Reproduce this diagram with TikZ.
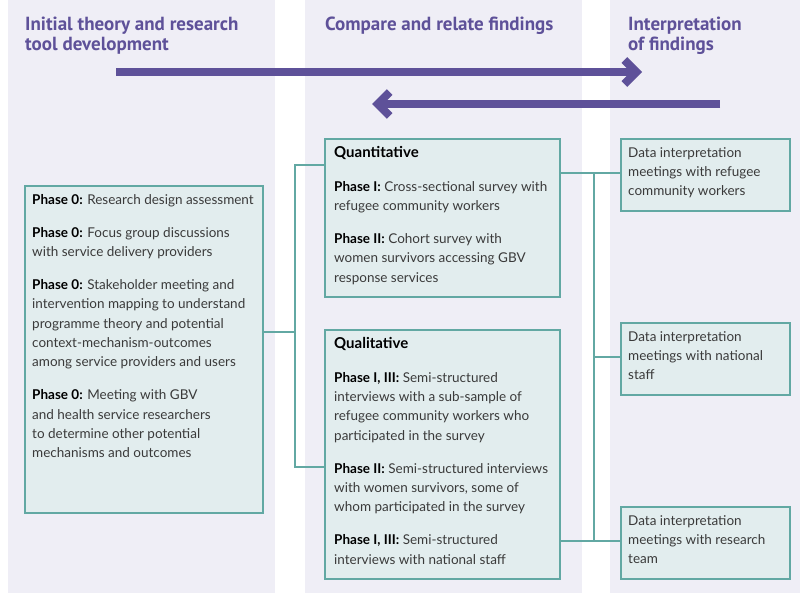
\documentclass[tikz,border=0pt]{standalone}
\usepackage{fontspec}
\setmainfont{Lato}
\newfontfamily\headfont{PT Sans}
\usetikzlibrary{arrows.meta}
\definecolor{colbg}{HTML}{EFEEF6}
\definecolor{purp}{HTML}{5E5199}
\definecolor{tealline}{HTML}{62A8A3}
\definecolor{boxfill}{HTML}{E2EDEE}
\definecolor{txtgray}{HTML}{3A3A3A}
\newcommand{\phlabel}[1]{\textbf{\color{black}#1}}
\newcommand{\boxtitle}[1]{{\fontsize{15}{19.3}\selectfont\textbf{\color{black}#1}}}
\tikzset{
  column/.style={fill=colbg},
  head/.style={font=\headfont\bfseries\fontsize{19}{20}\selectfont, text=purp, align=left, anchor=north west, inner sep=0pt},
  flow/.style={draw=purp, line width=8pt, -{Straight Barb[length=12pt,width=24pt]}},
  box/.style={draw=tealline, fill=boxfill, line width=1.6pt, anchor=north west, inner sep=0pt},
  txt/.style={font=\fontsize{13.5}{19.3}\selectfont, text=txtgray, align=left, anchor=north west, inner sep=0pt},
  link/.style={draw=tealline, line width=1.4pt},
}
\begin{document}
\begin{tikzpicture}[x=1pt, y=-1pt]
\useasboundingbox (0,0) rectangle (800,597);
% column backgrounds
\fill[column] (8,0) rectangle (275,593);
\fill[column] (305,0) rectangle (582,593);
\fill[column] (610,0) rectangle (800,593);
% headings
\node[head] (h1) at (25,17) {Initial theory and research\\tool development};
\node[head] (h2) at (325,17) {Compare and relate findings};
\node[head] (h3) at (628,17) {Interpretation\\of findings};
% big arrows
\coordinate (a1s) at (116,72);
\coordinate (a1e) at (642,72);
\coordinate (a2s) at (720,104);
\coordinate (a2e) at (372,104);
\draw[flow] (a1s) -- (a1e);
\draw[flow] (a2s) -- (a2e);
% boxes
\node[box, minimum width=238pt, minimum height=327pt] (phz) at (24,185) {};
\node[box, minimum width=235pt, minimum height=158pt] (quant) at (324,138) {};
\node[box, minimum width=235pt, minimum height=249pt] (qual) at (324,329) {};
\node[box, minimum width=169pt, minimum height=72pt] (dim1) at (620,138) {};
\node[box, minimum width=169pt, minimum height=72pt] (dim2) at (620,322) {};
\node[box, minimum width=169pt, minimum height=72pt] (dim3) at (620,506) {};
% connectors
\coordinate (jl) at (295,332);
\coordinate (lt) at (295,165);
\coordinate (lb) at (295,467);
\coordinate (rt) at (594,173);
\coordinate (rm) at (594,357);
\coordinate (rb) at (594,541);
\draw[link] (phz.east |- jl) -- (jl);
\draw[link] (quant.west |- lt) -- (lt) -- (lb) -- (qual.west |- lb);
\draw[link] (quant.east |- rt) -- (dim1.west |- rt);
\draw[link] (rt) -- (rb);
\draw[link] (rm) -- (dim2.west |- rm);
\draw[link] (qual.east |- rb) -- (dim3.west |- rb);
% box texts
\node[txt] (phzt) at (32,194) {\phlabel{Phase 0:} Research design assessment\\[13.7pt]
  \phlabel{Phase 0:} Focus group discussions\\
  with service delivery providers\\[13.7pt]
  \phlabel{Phase 0:} Stakeholder meeting and\\
  intervention mapping to understand\\
  programme theory and potential\\
  context-mechanism-outcomes\\
  among service providers and users\\[13.7pt]
  \phlabel{Phase 0:} Meeting with GBV\\
  and health service researchers\\
  to determine other potential\\
  mechanisms and outcomes};
\node[txt] (quantt) at (334,146) {\boxtitle{Quantitative}\\[14.7pt]
  \phlabel{Phase I:} Cross-sectional survey with\\
  refugee community workers\\[13.7pt]
  \phlabel{Phase II:} Cohort survey with\\
  women survivors accessing GBV\\
  response services};
\node[txt] (qualt) at (334,337) {\boxtitle{Qualitative}\\[14.7pt]
  \phlabel{Phase I, III:} Semi-structured\\
  interviews with a sub-sample of\\
  refugee community workers who\\
  participated in the survey\\[13.7pt]
  \phlabel{Phase II:} Semi-structured interviews\\
  with women survivors, some of\\
  whom participated in the survey\\[13.7pt]
  \phlabel{Phase I, III:} Semi-structured\\
  interviews with national staff};
\node[txt] (dim1t) at (628,147) {Data interpretation\\meetings with refugee\\community workers};
\node[txt] (dim2t) at (628,331) {Data interpretation\\meetings with national\\staff};
\node[txt] (dim3t) at (628,515) {Data interpretation\\meetings with research\\team};
\end{tikzpicture}
\end{document}
